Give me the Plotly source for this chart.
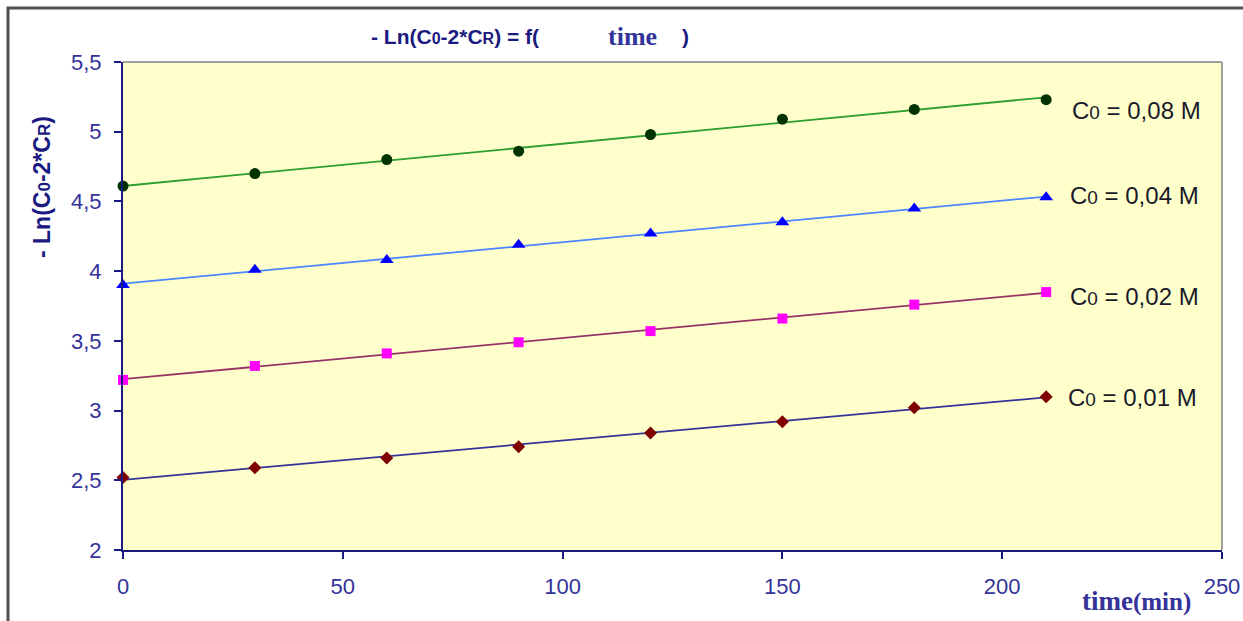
import numpy as np
import plotly.graph_objects as go

# ---- data ----
time_min = [0, 30, 60, 90, 120, 150, 180, 210]
series_names = ["C0 = 0,08 M", "C0 = 0,04 M", "C0 = 0,02 M", "C0 = 0,01 M"]
y_008 = [4.61, 4.70, 4.80, 4.86, 4.98, 5.09, 5.16, 5.23]
y_004 = [3.90, 4.01, 4.08, 4.19, 4.27, 4.35, 4.45, 4.53]
y_002 = [3.22, 3.32, 3.41, 3.49, 3.57, 3.66, 3.76, 3.85]
y_001 = [2.52, 2.59, 2.66, 2.74, 2.84, 2.92, 3.02, 3.10]
label_texts = ["C<span style='font-size:19px'>0</span> = 0,08 M",
               "C<span style='font-size:19px'>0</span> = 0,04 M",
               "C<span style='font-size:19px'>0</span> = 0,02 M",
               "C<span style='font-size:19px'>0</span> = 0,01 M"]
label_y = [5.15, 4.54, 3.815, 3.095]
label_x = [215.5, 214.9, 214.9, 214.5]
x_ticks = [0, 50, 100, 150, 200, 250]
y_ticks = [2, 2.5, 3, 3.5, 4, 4.5, 5, 5.5]

# ---- styles ----
all_y = [y_008, y_004, y_002, y_001]
marker_syms = ["circle", "triangle-up", "square", "diamond"]
marker_cols = ["#003300", "#0000FF", "#FF00FF", "#800000"]
marker_sizes = [11, 12, 10, 10]
line_cols = ["#2E9E2E", "#4A86FF", "#993366", "#333399"]

W, H = 1243, 621
L, R, T, B = 123, 21, 62, 71
pw, ph = W - L - R, H - T - B

fig = go.Figure()
for ys, name, sym, mc, ms, lc in zip(all_y, series_names, marker_syms,
                                     marker_cols, marker_sizes, line_cols):
    slope, icpt = np.polyfit(time_min, ys, 1)
    xs = np.array([time_min[0], time_min[-1]])
    fig.add_trace(go.Scatter(x=xs, y=icpt + slope * xs, mode="lines",
                             line=dict(color=lc, width=1.8),
                             showlegend=False, hoverinfo="skip"))
    fig.add_trace(go.Scatter(x=time_min, y=ys, mode="markers", name=name,
                             marker=dict(symbol=sym, color=mc, size=ms,
                                         line=dict(width=0)),
                             showlegend=False, cliponaxis=False))

for txt, lx, ly in zip(label_texts, label_x, label_y):
    fig.add_annotation(x=lx, y=ly, xref="x", yref="y", text=txt,
                       showarrow=False, xanchor="left", yanchor="middle",
                       font=dict(family="Arial", size=24, color="#1a1a2a"))

navy = "#1a1a80"
tickc = "#333399"
fig.update_layout(
    width=W, height=H,
    margin=dict(l=L, r=R, t=T, b=B, autoexpand=False),
    paper_bgcolor="white",
    plot_bgcolor="#FFFFCC",
    separators=", ",
    showlegend=False,
    xaxis=dict(range=[0, 250], tickvals=x_ticks, showgrid=False,
               zeroline=False, showline=True, linecolor=navy, linewidth=2,
               ticks="outside", ticklen=7, tickwidth=2, tickcolor=navy,
               ticklabelstandoff=9, automargin=False,
               tickfont=dict(family="Arial", size=22, color=tickc)),
    yaxis=dict(range=[2, 5.5], tickvals=y_ticks, showgrid=False,
               zeroline=False, showline=True, linecolor=navy, linewidth=2,
               ticks="outside", ticklen=7, tickwidth=2, tickcolor=navy,
               ticklabelstandoff=8, automargin=False,
               tickfont=dict(family="Arial", size=22, color=tickc)),
)

# plot area top/right gray border
fig.add_shape(type="line", xref="paper", yref="paper", x0=0, x1=1, y0=1, y1=1,
              line=dict(color="#A0A0A0", width=2))
fig.add_shape(type="line", xref="paper", yref="paper", x0=1, x1=1, y0=0, y1=1,
              line=dict(color="#A0A0A0", width=2))


def px_x(p):
    return (p - L) / pw


def px_y(p):
    return 1 - (p - T) / ph


# outer chart frame
fig.add_shape(type="rect", xref="paper", yref="paper",
              x0=px_x(8), x1=px_x(W + 10), y0=px_y(8), y1=px_y(H + 10),
              line=dict(color="#505050", width=3))

# title (three pieces, spaced as in the original)
fig.add_annotation(
    xref="paper", yref="paper", x=px_x(369), y=px_y(37),
    xanchor="left", yanchor="middle", showarrow=False,
    text=("<b>- Ln(C<span style='font-size:16px'>0</span>-2*"
          "C<span style='font-size:16px'>R</span>) = f(</b>"),
    font=dict(family="Arial", size=21, color=navy))
fig.add_annotation(
    xref="paper", yref="paper", x=px_x(632), y=px_y(37),
    xanchor="center", yanchor="middle", showarrow=False,
    text="<b>time</b>",
    font=dict(family="Liberation Serif", size=26, color="#333399"))
fig.add_annotation(
    xref="paper", yref="paper", x=px_x(685), y=px_y(37),
    xanchor="center", yanchor="middle", showarrow=False,
    text="<b>)</b>",
    font=dict(family="Arial", size=21, color=navy))

# y-axis title
fig.add_annotation(
    xref="paper", yref="paper", x=px_x(42), y=px_y(187),
    xanchor="center", yanchor="middle", showarrow=False, textangle=-90,
    text=("<b>- Ln(C<span style='font-size:17px'>0</span>-2*"
          "C<span style='font-size:17px'>R</span>)</b>"),
    font=dict(family="Arial", size=23, color=navy))

# x-axis title
fig.add_annotation(
    xref="paper", yref="paper", x=px_x(1136), y=px_y(601),
    xanchor="center", yanchor="middle", showarrow=False,
    text="<b>time<span style='font-size:25px'>(min)</span></b>",
    font=dict(family="Liberation Serif", size=27, color="#333399"))

fig.write_html("out.html")
